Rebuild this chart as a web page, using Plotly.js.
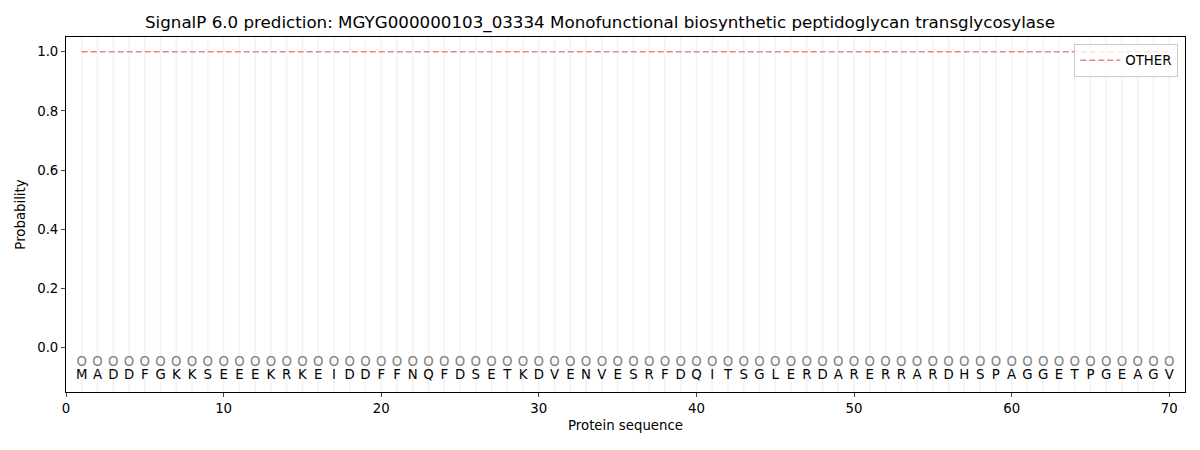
<!DOCTYPE html>
<html><head><meta charset="utf-8">
<script src="https://cdn.plot.ly/plotly-3.0.1.min.js"></script>
<style>body{margin:0;background:#fff}#c{width:1200px;height:450px}</style>
</head><body><div id="c"></div>
<script>
const sequence = "MADDFGKKSEEEKRKEIDDFFNQFDSETKDVENVESRFDQITSGLERDARERRARDHSPAGGETPGEAGV".split("");
const positions = sequence.map((_, i) => i + 1);
const otherProb = positions.map(() => 1.0);
const predLabels = positions.map(() => "O");
const markerY = positions.map(() => -0.05);
const letterY = positions.map(() => -0.095);

const font = "DejaVu Sans, sans-serif";
const traces = [
  {x: positions, y: otherProb, mode: "lines", name: "OTHER",
   line: {color: "rgba(240,128,128,1)", dash: "6px,3px", width: 1.5}, showlegend: true},
  {x: positions, y: markerY, mode: "text", text: predLabels, showlegend: false,
   textfont: {family: font, size: 13.3, color: "#808080"}, hoverinfo: "skip"},
  {x: positions, y: letterY, mode: "text", text: sequence, showlegend: false,
   textfont: {family: font, size: 13.3, color: "#000"}, hoverinfo: "skip"}
];
const layout = {
  width: 1200, height: 450,
  margin: {l: 66, r: 15, t: 37, b: 58},
  paper_bgcolor: "#fff", plot_bgcolor: "#fff",
  font: {family: font, size: 13.3, color: "#000"},
  title: {text: "SignalP 6.0 prediction: MGYG000000103_03334 Monofunctional biosynthetic peptidoglycan transglycosylase",
          font: {family: font, size: 16.7}, x: 0.5, xanchor: "center", y: 0.95, yanchor: "middle"},
  xaxis: {range: [0, 71], tickvals: [0,10,20,30,40,50,60,70], ticks: "outside", ticklen: 4,
          showgrid: false, zeroline: false, showline: true, linecolor: "#000", mirror: true,
          tickfont: {size: 13.3},
          title: {text: "Protein sequence", font: {size: 13.3}, standoff: 5}},
  yaxis: {range: [-0.15, 1.05], tickvals: [0,0.2,0.4,0.6,0.8,1.0], ticktext: ["0.0","0.2","0.4","0.6","0.8","1.0"],
          ticks: "outside", ticklen: 4, showgrid: false, zeroline: false, showline: true, linecolor: "#000", mirror: true,
          tickfont: {size: 13.3},
          title: {text: "Probability", font: {size: 13.3}, standoff: 8}},
  legend: {x: 0.994, y: 0.98, xanchor: "right", yanchor: "top", bgcolor: "rgba(255,255,255,0.8)",
           bordercolor: "#ccc", borderwidth: 1, font: {size: 13.3}, tracegroupgap: 0, itemwidth: 40},
  shapes: positions.map(p => ({type: "line", xref: "x", yref: "paper", x0: p, x1: p, y0: 0, y1: 1,
           line: {color: "rgba(0,0,0,0.05)", width: 1.5}, layer: "below"}))
};
Plotly.newPlot("c", traces, layout, {displayModeBar: false, staticPlot: true});
</script></body></html>
